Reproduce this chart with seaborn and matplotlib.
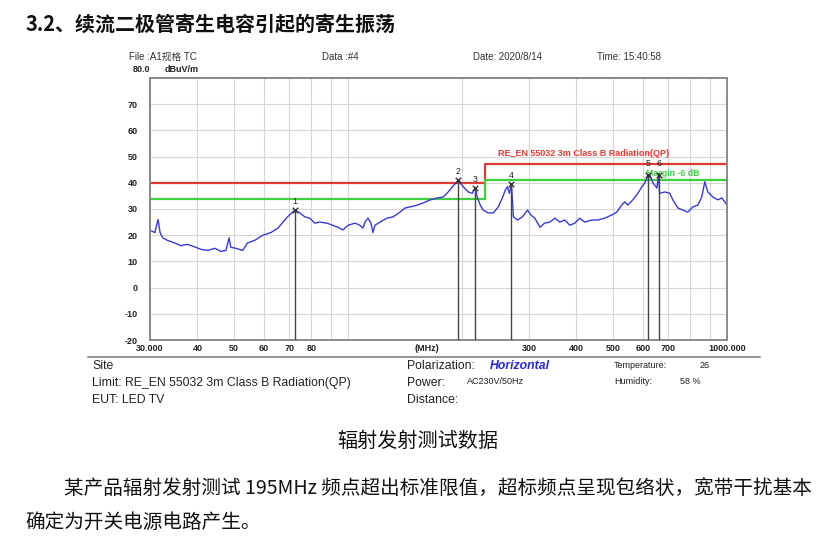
import numpy as np
import pandas as pd
import matplotlib
matplotlib.use('Agg')
import matplotlib.pyplot as plt
from matplotlib.lines import Line2D
from matplotlib.ticker import NullLocator
import seaborn as sns

# spectrum trace (MHz, dBuV/m)
freq = [30.0, 30.9, 31.5, 31.9, 32.4, 33.4, 34.9, 36.2, 37.7, 39.4,
        40.9, 42.6, 44.5, 46.2, 47.6, 48.5, 49.0, 50.5, 52.7, 54.2,
        56.6, 59.6, 62.5, 65.3, 67.3, 69.2, 71.4, 72.3, 74.6, 76.9,
        79.2, 81.7, 84.2, 87.9, 91.0, 94.1, 96.9, 100.0, 104.3, 107.4,
        109.4, 110.8, 112.8, 114.9, 116.3, 117.7, 121.4, 126.6, 131.4, 137.1,
        141.4, 145.9, 152.2, 157.8, 164.7, 171.8, 178.2, 183.7, 189.4, 195.3,
        197.7, 201.3, 207.5, 212.6, 216.5, 219.2, 223.2, 227.3, 234.3, 241.6,
        249.1, 255.3, 260.1, 263.3, 266.5, 269.8, 273.1, 279.8, 288.5, 297.6,
        303.6, 311.0, 321.0, 330.1, 340.3, 351.4, 362.0, 373.3, 384.8, 396.5,
        408.5, 421.1, 439.4, 456.0, 475.8, 496.3, 511.7, 527.5, 537.2, 547.1,
        564.3, 581.7, 596.1, 607.1, 618.3, 625.8, 637.3, 653.0, 660.0, 664.0,
        685.3, 706.4, 719.4, 741.6, 764.5, 788.1, 812.4, 837.5, 858.0, 873.8,
        889.8, 917.3, 945.6, 969.0, 1000.0]
level = [21.9, 21.0, 26.0, 21.0, 19.0, 18.0, 17.0, 16.0, 16.5, 15.5,
         14.6, 14.2, 15.0, 13.8, 14.2, 19.0, 15.4, 15.0, 14.2, 17.0,
         18.0, 20.0, 21.0, 22.7, 25.0, 27.0, 28.8, 29.6, 28.5, 27.0,
         26.5, 24.6, 25.0, 24.6, 23.8, 23.0, 22.0, 23.8, 24.6, 23.8,
         22.7, 25.0, 26.5, 24.6, 21.0, 23.8, 25.0, 26.5, 27.0, 28.8,
         30.4, 30.8, 31.5, 32.3, 33.5, 34.2, 34.6, 36.5, 38.8, 41.0,
         40.0, 38.5, 36.5, 36.0, 38.0, 34.6, 31.5, 29.6, 28.5, 28.5,
         30.8, 34.2, 37.3, 38.5, 36.0, 39.5, 27.0, 25.8, 27.0, 29.6,
         27.7, 26.5, 23.0, 24.6, 25.0, 26.5, 25.0, 25.8, 23.8, 24.6,
         26.5, 25.0, 25.8, 25.8, 26.5, 27.7, 28.8, 31.5, 32.7, 31.5,
         33.5, 36.0, 38.5, 40.0, 42.8, 43.0, 40.0, 38.0, 43.5, 36.0,
         36.5, 36.0, 33.5, 30.4, 29.6, 28.8, 30.8, 31.5, 34.6, 40.4,
         36.5, 34.6, 33.5, 34.2, 31.5]

# limit line and margin line (steps at 230 MHz)
limit_freq = [30, 230, 230, 1000]
limit_level = [40, 40, 47, 47]
margin_level = [34, 34, 41, 41]

# markers
marker_no = ['1', '2', '3', '4', '5', '6']
marker_freq = [72.3, 195.3, 216.5, 269.8, 618.3, 660.0]
marker_level = [29.6, 41.0, 38.0, 39.5, 42.8, 43.0]

grid_freq = [30, 40, 50, 60, 70, 80, 90, 100, 200, 300, 400, 500, 600, 700, 800, 900, 1000]
grid_lab = ['30.000', '40', '50', '60', '70', '80', '', '', '', '300', '400', '500', '600', '700', '', '', '1000.000']
ytick = list(range(-20, 81, 10))
ytick_lab = [str(v) for v in ytick[:-1]] + ['']

sns.set_theme(style='white')
plt.rcParams['font.family'] = ['Liberation Sans', 'Noto Sans CJK SC', 'DejaVu Sans']
CJK = ['Noto Sans CJK SC', 'DejaVu Sans']

W, H = 816, 536
def fx(px):
    return px / W
def fy(py):
    return 1 - py / H

fig = plt.figure(figsize=(W / 100, H / 100), dpi=100)
fig.patch.set_facecolor('white')
ax = fig.add_axes([fx(150), fy(340), 577 / W, 262 / H])

trace = pd.DataFrame({'freq': freq, 'level': level})
lim = pd.DataFrame({'freq': limit_freq, 'limit': limit_level, 'margin': margin_level})

sns.lineplot(data=lim, x='freq', y='limit', ax=ax, color='#e23a32', lw=1.6,
             estimator=None, sort=False)
sns.lineplot(data=lim, x='freq', y='margin', ax=ax, color='#3fcf3f', lw=1.6,
             estimator=None, sort=False)
sns.lineplot(data=trace, x='freq', y='level', ax=ax, color='#3a3ad8', lw=1.0,
             estimator=None, sort=False)

ax.vlines(marker_freq, -20, marker_level, color='#444444', lw=1.0, zorder=4)
ax.scatter(marker_freq, marker_level, marker='x', s=16, color='#333333', lw=1.0, zorder=5)
for i, (n, f, v) in enumerate(zip(marker_no, marker_freq, marker_level)):
    dy = 4.4 if i >= 4 else 3.4
    ax.text(f, v + dy, n, ha='center', va='center', fontsize=6.3, color='#222222', zorder=6)

ax.text(248, 49.6, 'RE_EN 55032 3m Class B Radiation(QP)', fontsize=6.5,
        fontweight='bold', color='#e23a32', va='bottom')
ax.text(612, 43.6, 'Margin -6 dB', fontsize=6.3, fontweight='bold', color='#3fcf3f',
        va='center')

ax.set_xscale('log')
ax.set_xlim(30, 1000)
ax.set_ylim(-20, 80)
ax.set_xticks(grid_freq)
ax.set_xticklabels(grid_lab)
ax.xaxis.set_minor_locator(NullLocator())
ax.set_yticks(ytick)
ax.set_yticklabels(ytick_lab)
ax.tick_params(length=0, labelsize=6.5, colors='#222222')
ax.tick_params(axis='x', pad=3)
ax.tick_params(axis='y', pad=9)
for t in ax.get_xticklabels() + ax.get_yticklabels():
    t.set_fontweight('bold')
ax.grid(True, color='#d6d6d6', lw=0.8)
ax.set_xlabel('')
ax.set_ylabel('')
for s in ax.spines.values():
    s.set_color('#8a8a8a')
    s.set_linewidth(1.4)
ax.text(161, -0.014, '(MHz)', transform=ax.get_xaxis_transform(), ha='center',
        va='top', fontsize=6.5, fontweight='bold', color='#222222')

# page text
fig.text(fx(25), fy(24), '3.2、续流二极管寄生电容引起的寄生振荡', family=CJK,
         fontsize=14.4, fontweight='bold', va='center', color='#111111')

fig.text(fx(129), fy(57), 'File :A1规格 TC', fontsize=7, va='center', color='#333333')
fig.text(fx(322), fy(57), 'Data :#4', fontsize=7, va='center', color='#333333')
fig.text(fx(473), fy(57), 'Date: 2020/8/14', fontsize=7, va='center', color='#333333')
fig.text(fx(597), fy(57), 'Time: 15:40:58', fontsize=7, va='center', color='#333333')
fig.text(fx(133), fy(70), '80.0', fontsize=6.5, fontweight='bold', va='center', color='#222222')
fig.text(fx(165), fy(70), 'dBuV/m', fontsize=6.5, fontweight='bold', va='center', color='#222222')

fig.add_artist(Line2D([fx(88), fx(760)], [fy(357), fy(357)], color='#999999', lw=1.5))

fig.text(fx(92), fy(366), 'Site', fontsize=8.8, va='center', color='#222222')
fig.text(fx(92), fy(383), 'Limit: RE_EN 55032 3m Class B Radiation(QP)', fontsize=8.8,
         va='center', color='#222222')
fig.text(fx(92), fy(400), 'EUT: LED TV', fontsize=8.8, va='center', color='#222222')
fig.text(fx(407), fy(366), 'Polarization:', fontsize=8.8, va='center', color='#222222')
fig.text(fx(490), fy(366), 'Horizontal', fontsize=8.8, fontweight='bold', style='italic',
         va='center', color='#2b2bd0')
fig.text(fx(407), fy(383), 'Power:', fontsize=8.8, va='center', color='#222222')
fig.text(fx(467), fy(382), 'AC230V/50Hz', fontsize=6.5, va='center', color='#222222')
fig.text(fx(407), fy(400), 'Distance:', fontsize=8.8, va='center', color='#222222')
fig.text(fx(614), fy(365), 'Temperature:', fontsize=6.5, va='center', color='#222222')
fig.text(fx(700), fy(365), '26', fontsize=6.5, va='center', color='#222222')
fig.text(fx(614), fy(382), 'Humidity:', fontsize=6.5, va='center', color='#222222')
fig.text(fx(680), fy(382), '58 %', fontsize=6.5, va='center', color='#222222')

fig.text(fx(418), fy(441), '辐射发射测试数据', family=CJK, fontsize=14.5, ha='center',
         va='center', color='#111111')
fig.text(fx(64), fy(488), '某产品辐射发射测试 195MHz 频点超出标准限值，超标频点呈现包络状，宽带干扰基本',
         family=CJK, fontsize=14.1, va='center', color='#111111')
fig.text(fx(25), fy(522), '确定为开关电源电路产生。', family=CJK, fontsize=14.1,
         va='center', color='#111111')

fig.savefig('out.png', dpi=100, facecolor='white')
